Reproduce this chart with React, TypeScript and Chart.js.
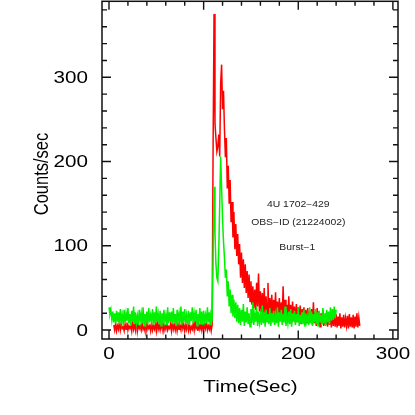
import React, { useEffect, useRef } from "react";
import { Chart, registerables } from "chart.js";

Chart.register(...registerables);

// ---- Data (counts/sec, 1 s bins) ----
const timeStep = 1;
const greenStart = 0;
const redStart = 5;

// Green curve: t = 0 .. 109
const greenPre = [
  27, 19, 24, 12, 22, 9, 20, 8, 23, 10,
  21, 7, 25, 10, 18, 6, 24, 9, 20, 11,
  26, 8, 19, 5, 23, 10, 28, 7, 21, 9,
  17, 6, 24, 11, 20, 8, 27, 5, 19, 10,
  22, 7, 26, 9, 18, 11, 25, 6, 21, 8,
  28, 10, 19, 7, 23, 5, 20, 9, 24, 11,
  18, 6, 27, 8, 21, 10, 22, 7, 26, 9,
  19, 5, 24, 11, 20, 8, 28, 6, 22, 10,
  25, 7, 18, 9, 23, 6, 21, 11, 27, 8,
  20, 10, 24, 5, 19, 9, 26, 7, 22, 6,
  23, 11, 18, 8, 27, 9, 21, 6, 24, 10,
];
// Green curve: t = 110 .. 135
const greenBurst = [
  90, 170, 115, 78, 62, 58, 95, 150, 206, 168,
  132, 105, 86, 62, 72, 40, 58, 28, 48, 20,
  42, 16, 36, 14, 33, 10,
];
// Green curve: t = 136 .. 240
const greenTail = [
  30, 8, 26, 6, 24, 10, 31, 5, 22, 9,
  27, 7, 20, 4, 25, 8, 33, 6, 19, 10,
  28, 5, 22, 9, 18, 6, 29, 8, 21, 4,
  24, 10, 19, 7, 26, 5, 20, 9, 23, 6,
  18, 8, 27, 4, 21, 10, 24, 6, 19, 9,
  28, 5, 17, 8, 22, 7, 25, 4, 20, 10,
  23, 6, 19, 9, 26, 5, 18, 8, 21, 7,
  24, 4, 20, 10, 17, 6, 27, 8, 22, 5,
  19, 9, 25, 7, 21, 4, 23, 10, 18, 6,
  26, 8, 20, 5, 24, 9, 22, 7, 27, 11,
  25, 12, 28, 14, 24,
];

// Red curve: t = 5 .. 109
const redPre = [
  6, 0, 8, -1, 5, 1, 10, 0, 7, 2,
  4, -1, 7, 1, 9, 0, 5, 2, 6, -1,
  11, 1, 6, 0, 16, -1, 7, 2, 5, 0,
  8, 1, 4, -1, 10, 0, 6, 2, 5, -1,
  9, 0, 5, 1, 7, -1, 12, 1, 6, 0,
  7, 2, 8, -1, 5, 1, 9, 0, 4, 2,
  7, -1, 11, 1, 6, 0, 8, -1, 7, 1,
  5, 0, 10, 2, 7, -1, 6, 1, 9, 0,
  7, -1, 4, 1, 8, 0, 11, 2, 5, -1,
  7, 1, 6, 0, 9, -1, 7, 2, 10, 0,
  5, 1, 7, -1, 6,
];
// Red curve: t = 110 .. 150
const redBurst = [
  216, 375, 245, 228, 212, 218, 232, 206, 293, 315,
  262, 284, 238, 205, 228, 168, 195, 150, 178, 128,
  152, 110, 140, 96, 126, 88, 114, 78, 102, 62,
  92, 56, 84, 50, 78, 44, 70, 38, 66, 34,
  58,
];
// Red curve: t = 151 .. 265
const redTail = [
  30, 52, 26, 48, 24, 56, 28, 67, 22, 46,
  21, 44, 19, 50, 18, 40, 17, 56, 16, 38,
  15, 42, 17, 36, 14, 45, 13, 34, 15, 38,
  12, 33, 14, 52, 11, 36, 13, 30, 10, 40,
  12, 30, 9, 34, 11, 28, 8, 31, 10, 27,
  9, 29, 7, 25, 10, 27, 6, 24, 8, 26,
  7, 22, 9, 25, 6, 33, 8, 21, 5, 26,
  7, 22, 4, 20, 8, 24, 5, 19, 6, 21,
  4, 20, 6, 18, 3, 22, 5, 17, 4, 19,
  3, 16, 5, 20, 2, 15, 4, 18, 3, 14,
  5, 17, 2, 19, 4, 15, 3, 18, 2, 16,
  4, 20, 3, 15, 5,
];

const xMajorTicks = [0, 100, 200, 300];
const yMajorTicks = [0, 100, 200, 300];
const minorStep = 20;
const xTitle = "Time(Sec)";
const yTitle = "Counts/sec";
const annotationLines = ["4U 1702\u2212429", "OBS\u2212ID (21224002)", "Burst\u22121"];

function toPoints(start: number, values: number[]) {
  return values.map((v, i) => ({ x: start + i * timeStep, y: v }));
}

const FONT = '"Liberation Sans", Arial, Helvetica, sans-serif';
const STRETCH = 1.25;

const framePlugin = {
  id: "framePlugin",
  afterDraw(chart: any) {
    const ctx: CanvasRenderingContext2D = chart.ctx;
    const { left, right, top, bottom } = chart.chartArea;
    const xs = chart.scales.x;
    const ys = chart.scales.y;
    ctx.save();
    ctx.strokeStyle = "#111";
    ctx.lineWidth = 1.5;
    ctx.strokeRect(left, top, right - left, bottom - top);

    // ticks
    ctx.lineWidth = 1.4;
    ctx.beginPath();
    for (let v = 0; v <= xs.max; v += minorStep) {
      if (v < xs.min) continue;
      const major = xMajorTicks.includes(v);
      const len = major ? 8.5 : 4.5;
      const px = xs.getPixelForValue(v);
      ctx.moveTo(px, bottom);
      ctx.lineTo(px, bottom - len);
      ctx.moveTo(px, top);
      ctx.lineTo(px, top + len);
    }
    for (let v = 0; v <= ys.max; v += minorStep) {
      if (v < ys.min) continue;
      const major = yMajorTicks.includes(v);
      const len = major ? 9 : 5;
      const py = ys.getPixelForValue(v);
      ctx.moveTo(left, py);
      ctx.lineTo(left + len, py);
      ctx.moveTo(right, py);
      ctx.lineTo(right - len, py);
    }
    ctx.stroke();

    const drawText = (
      text: string,
      x: number,
      y: number,
      size: number,
      align: CanvasTextAlign,
      rotate = false
    ) => {
      ctx.save();
      ctx.translate(x, y);
      if (rotate) {
        ctx.rotate(-Math.PI / 2);
        ctx.scale(1, STRETCH);
      } else {
        ctx.scale(STRETCH, 1);
      }
      ctx.font = `${size}px ${FONT}`;
      ctx.textAlign = align;
      ctx.textBaseline = "alphabetic";
      ctx.fillText(text, 0, 0);
      ctx.restore();
    };

    ctx.fillStyle = "#000";
    xMajorTicks.forEach((v) => {
      drawText(String(v), xs.getPixelForValue(v), bottom + 19.5, 16.5, "center");
    });
    yMajorTicks.forEach((v) => {
      drawText(String(v), left - 14, ys.getPixelForValue(v) + 5.5, 16.5, "right");
    });
    drawText(xTitle, (left + right) / 2 + 0.5, bottom + 52.5, 16.5, "center");
    drawText(yTitle, 47.5, 174, 16.5, "center", true);

    ctx.fillStyle = "#222";
    const ax = xs.getPixelForValue(200);
    drawText(annotationLines[0], ax, ys.getPixelForValue(145.6), 8.3, "center");
    drawText(annotationLines[1], ax, ys.getPixelForValue(124.9), 8.3, "center");
    drawText(annotationLines[2], ax - 1, ys.getPixelForValue(95.5), 8.3, "center");
    ctx.restore();
  },
};

export default function App() {
  const ref = useRef<HTMLCanvasElement | null>(null);
  useEffect(() => {
    document.body.style.margin = "0";
    if (!ref.current) return;
    const green = toPoints(greenStart, [...greenPre, ...greenBurst, ...greenTail]);
    const red = toPoints(redStart, [...redPre, ...redBurst, ...redTail]);
    const chart = new Chart(ref.current, {
      type: "line",
      data: {
        datasets: [
          {
            label: "green",
            data: green,
            borderColor: "#00f000",
            borderWidth: 1.5,
            pointRadius: 0,
            tension: 0,
          },
          {
            label: "red",
            data: red,
            borderColor: "#ff0000",
            borderWidth: 1.5,
            pointRadius: 0,
            tension: 0,
          },
        ],
      },
      options: {
        animation: false,
        responsive: false,
        devicePixelRatio: 1,
        layout: { padding: { left: 102, right: 17, top: 1.3, bottom: 76 } },
        plugins: { legend: { display: false }, tooltip: { enabled: false } },
        scales: {
          x: { type: "linear", min: -7.4, max: 305.4, display: false },
          y: { type: "linear", min: -10.6, max: 390.2, display: false },
        },
      },
      plugins: [framePlugin],
    });
    return () => chart.destroy();
  }, []);
  return <canvas ref={ref} width={415} height={415} style={{ display: "block" }} />;
}
